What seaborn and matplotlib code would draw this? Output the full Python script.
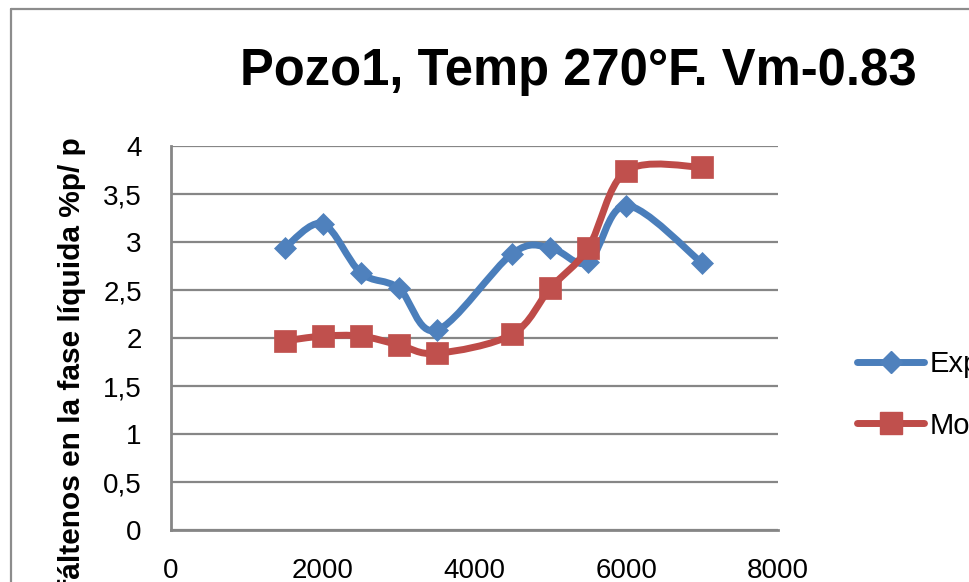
import matplotlib
matplotlib.use("Agg")
import matplotlib.pyplot as plt
from matplotlib.path import Path
from matplotlib.patches import PathPatch
from matplotlib.lines import Line2D
from matplotlib.ticker import FuncFormatter
import seaborn as sns
import pandas as pd
import numpy as np

# ---- data ----
presion = [1500, 2000, 2500, 3000, 3500, 4500, 5000, 5500, 6000, 7000]
experimental = [2.94, 3.19, 2.68, 2.52, 2.08, 2.88, 2.94, 2.79, 3.38, 2.78]
modelo = [1.97, 2.02, 2.02, 1.93, 1.84, 2.04, 2.52, 2.94, 3.74, 3.78]
series_names = ["Experimental", "Modelo"]
title = "Pozo1, Temp 270°F. Vm-0.83"
ylabel = "Asfáltenos en la fase líquida %p/ p"
xticks = [0, 2000, 4000, 6000, 8000]
yticks = [0, 0.5, 1, 1.5, 2, 2.5, 3, 3.5, 4]

sns.set_theme(style="white")
plt.rcParams["font.family"] = ["Liberation Sans", "DejaVu Sans"]
plt.rcParams["text.color"] = "black"

W, H = 969, 582
fig = plt.figure(figsize=(W / 100, H / 100), dpi=100)
fig.patch.set_facecolor("white")

def fx(px):
    return px / W

def fy(py):
    return 1 - py / H

ax = fig.add_axes([fx(171), fy(530), fx(778) - fx(171), fy(146) - fy(530)])
ax.set_facecolor("white")

df = pd.DataFrame({
    "x": presion * 2,
    "y": experimental + modelo,
    "serie": [series_names[0]] * len(presion) + [series_names[1]] * len(presion),
})

blue_line, blue_mk = "#4A7EBB", "#4F81BD"
red_line, red_mk = "#BE4B48", "#C0504D"
styles = {
    series_names[0]: dict(line=blue_line, mk=blue_mk, marker="D", ms=11.5),
    series_names[1]: dict(line=red_line, mk=red_mk, marker="s", ms=15.5),
}

def smooth_path(xs, ys):
    pts = np.column_stack([xs, ys]).astype(float)
    n = len(pts)
    verts = [pts[0]]
    codes = [Path.MOVETO]
    for i in range(n - 1):
        p0 = pts[i - 1] if i > 0 else pts[i]
        p1 = pts[i]
        p2 = pts[i + 1]
        p3 = pts[i + 2] if i + 2 < n else pts[i + 1]
        c1 = p1 + (p2 - p0) / 6.0
        c2 = p2 - (p3 - p1) / 6.0
        verts += [c1, c2, p2]
        codes += [Path.CURVE4] * 3
    return Path(verts, codes)

z = 3
for name in series_names:
    st = styles[name]
    sub = df[df["serie"] == name]
    patch = PathPatch(smooth_path(sub["x"].values, sub["y"].values), fill=False,
                      edgecolor=st["line"], lw=5.0, capstyle="round", joinstyle="round",
                      zorder=z)
    ax.add_patch(patch)
    sns.lineplot(data=sub, x="x", y="y", ax=ax, linestyle="none", marker=st["marker"],
                 markersize=st["ms"], color=st["mk"], markeredgecolor=st["mk"],
                 markeredgewidth=0.5, legend=False, zorder=z + 1)
    z += 2

ax.set_xlim(0, 8000)
ax.set_ylim(0, 4)
ax.set_xticks(xticks)
ax.set_yticks(yticks)
ax.yaxis.set_major_formatter(FuncFormatter(lambda v, p: (f"{v:g}").replace(".", ",")))
ax.xaxis.set_major_formatter(FuncFormatter(lambda v, p: f"{int(v)}"))
ax.tick_params(axis="both", length=0, labelsize=20, colors="black")
ax.tick_params(axis="y", pad=21)
ax.tick_params(axis="x", pad=20)
ax.set_xlabel("")
ax.set_ylabel("")
ax.grid(axis="y", color="#868686", lw=1.6)
ax.grid(axis="x", visible=False)
ax.set_axisbelow(True)
for s in ["top", "right"]:
    ax.spines[s].set_visible(False)
for s in ["left", "bottom"]:
    ax.spines[s].set_color("#868686")
    ax.spines[s].set_linewidth(2.0)

# title
fig.text(fx(578), fy(72), title, ha="center", va="center",
         fontsize=36.5, fontweight="bold", color="black")

# y label (top aligned, running off bottom of figure)
fig.text(fx(72), fy(137), ylabel, rotation=90, ha="center", va="top",
         fontsize=21.5, fontweight="bold", color="black")

# outer chart border (continues beyond the crop)
fig.add_artist(Line2D([fx(11), fx(11)], [fy(9), -0.2], color="#8C8C8C", lw=1.6))
fig.add_artist(Line2D([fx(11), 1.2], [fy(9), fy(9)], color="#8C8C8C", lw=1.6))

handles = [
    Line2D([], [], color=blue_line, lw=5, marker="D", markersize=11.5,
           markerfacecolor=blue_mk, markeredgecolor=blue_mk, solid_capstyle="round"),
    Line2D([], [], color=red_line, lw=5, marker="s", markersize=15.5,
           markerfacecolor=red_mk, markeredgecolor=red_mk, solid_capstyle="round"),
]
fig.legend(handles, series_names, loc="upper left", bbox_to_anchor=(fx(857), fy(350)),
           frameon=False, fontsize=21, handlelength=2.3, handletextpad=0.2,
           labelspacing=1.15, borderpad=0, borderaxespad=0, labelcolor="black")

fig.savefig("out.png", dpi=100, facecolor="white")
